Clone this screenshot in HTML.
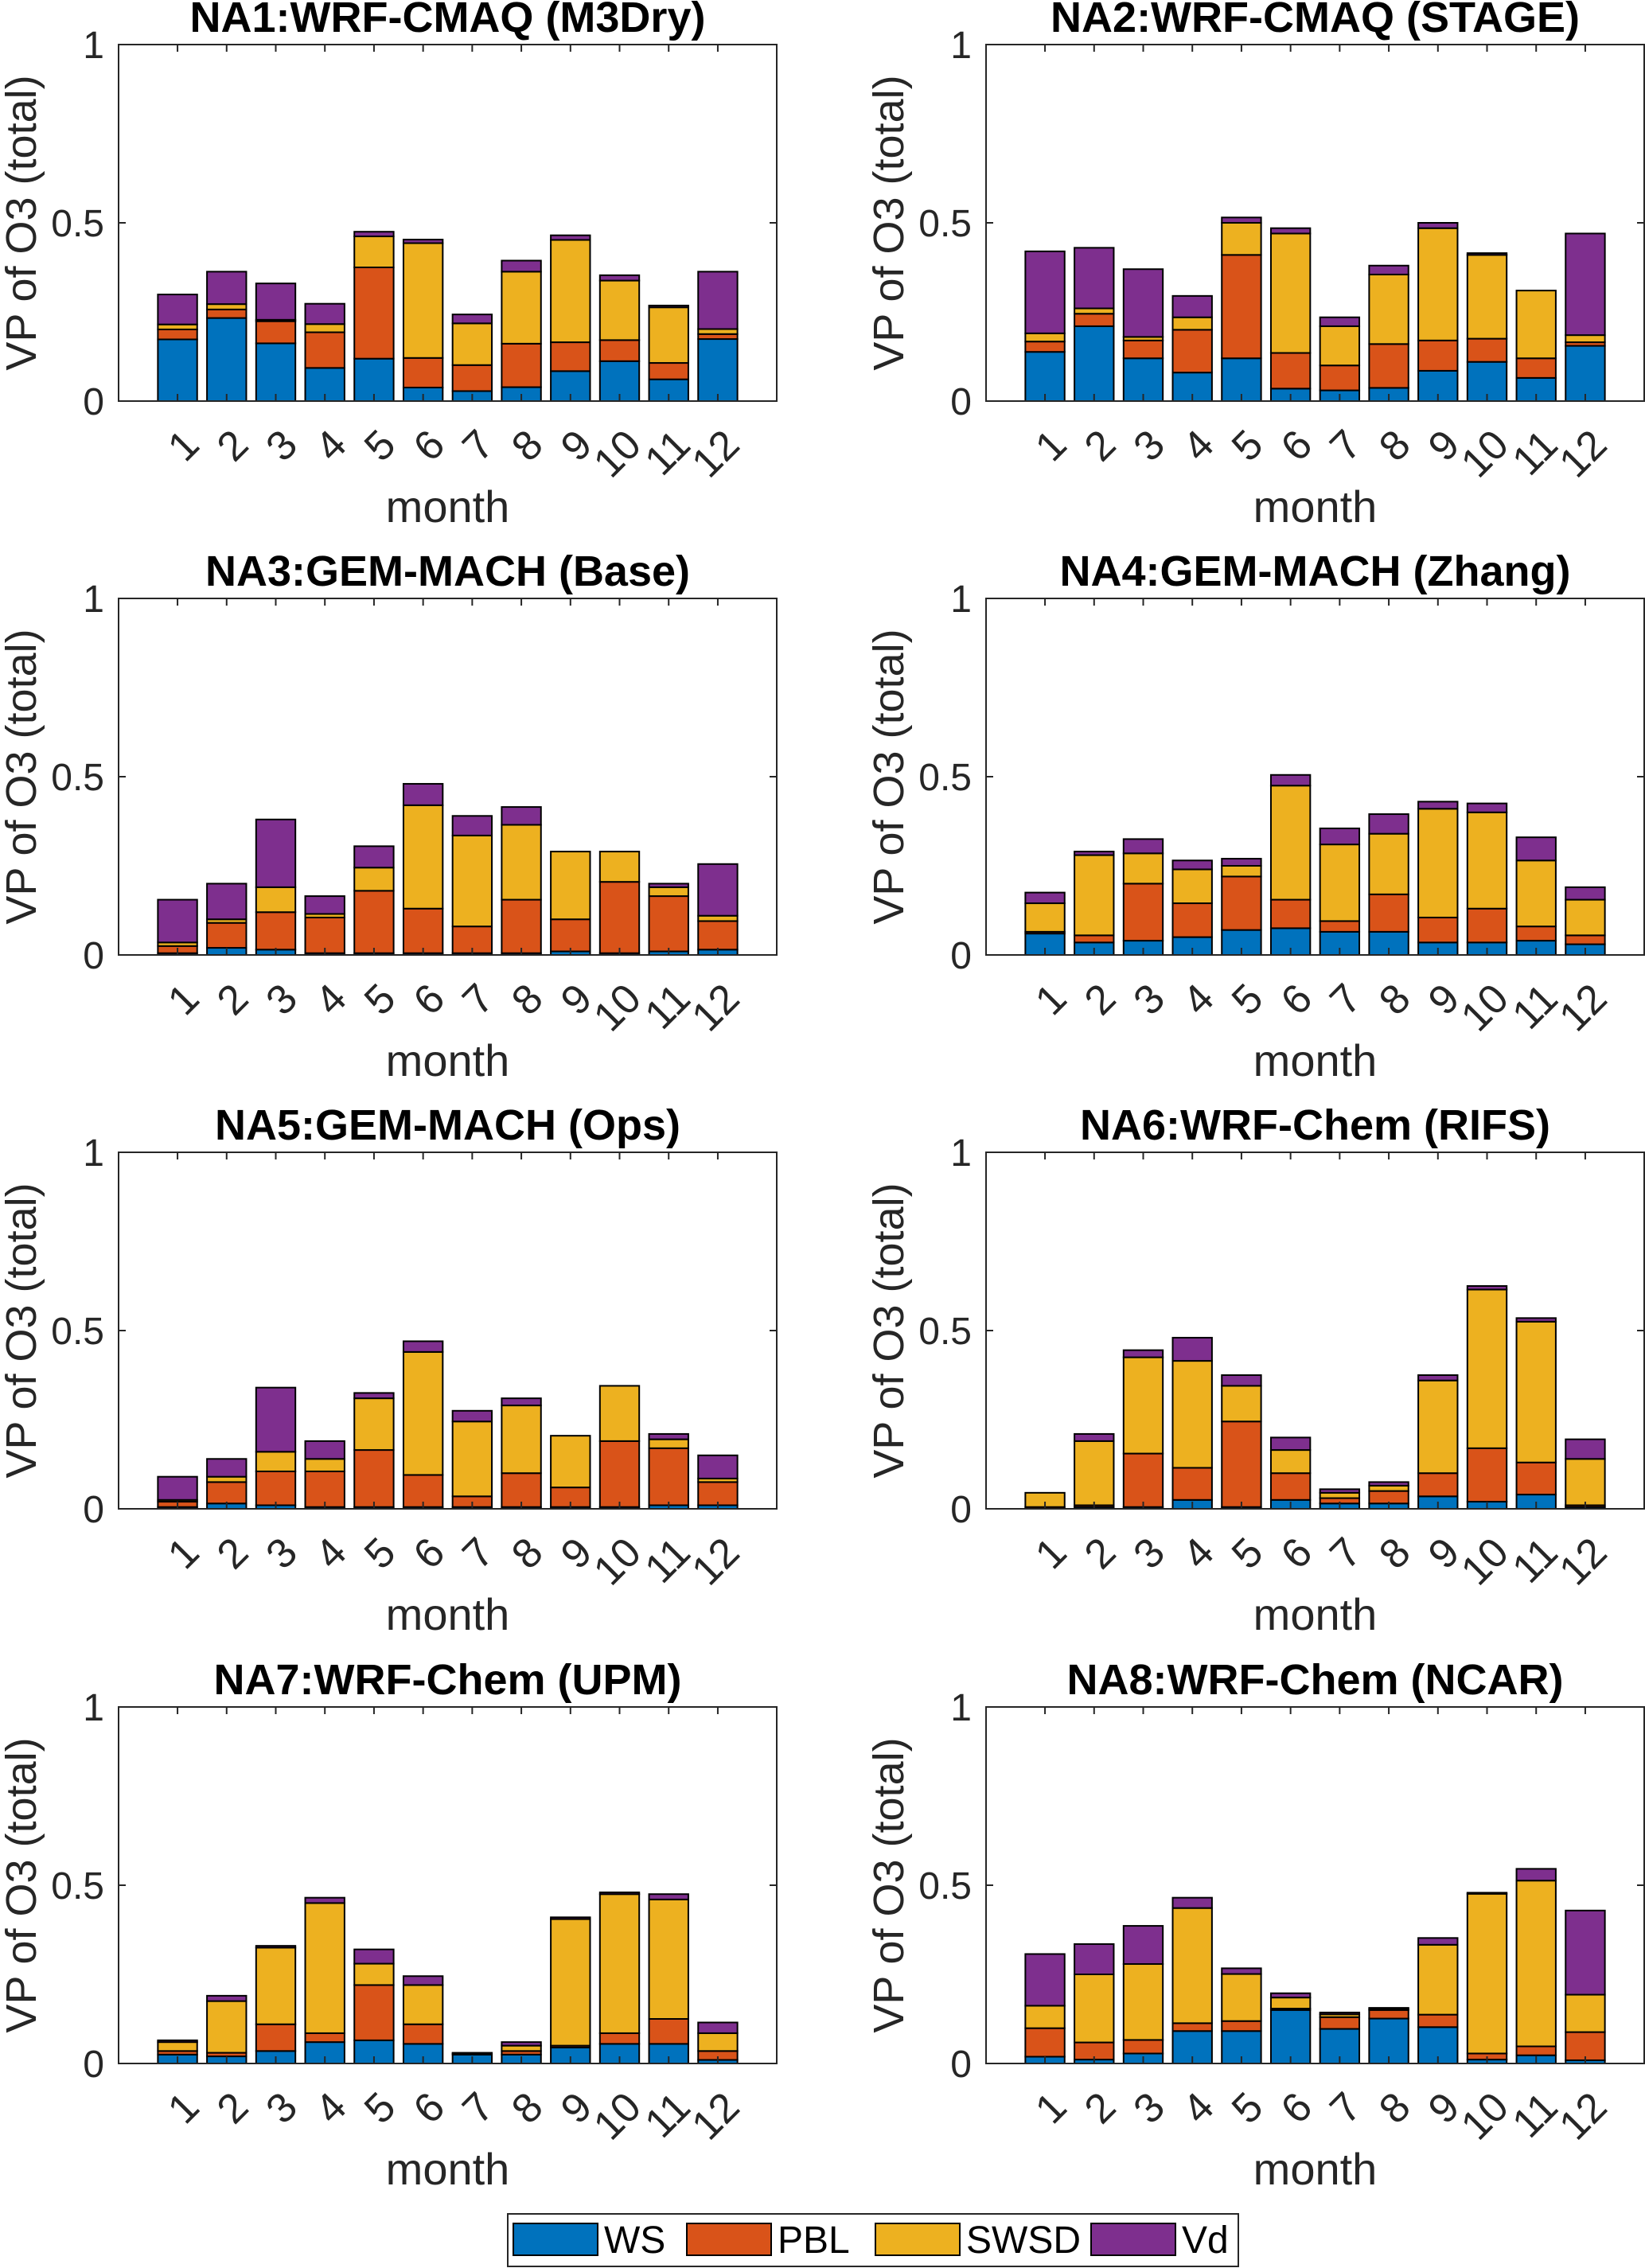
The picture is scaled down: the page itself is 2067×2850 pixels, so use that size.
<!DOCTYPE html>
<html><head><meta charset="utf-8"><style>
html,body{margin:0;padding:0;background:#fff;}
svg{display:block;font-family:"Liberation Sans",Arial,sans-serif;}
</style></head><body>
<svg id="fig" width="2067" height="2850" viewBox="0 0 2067 2850" xmlns="http://www.w3.org/2000/svg"></svg>
<script>
const months = ["1","2","3","4","5","6","7","8","9","10","11","12"];
const yTicks = [0, 0.5, 1];
const yTickLabels = ["0", "0.5", "1"];
const titles = ["NA1:WRF-CMAQ (M3Dry)","NA2:WRF-CMAQ (STAGE)","NA3:GEM-MACH (Base)","NA4:GEM-MACH (Zhang)","NA5:GEM-MACH (Ops)","NA6:WRF-Chem (RIFS)","NA7:WRF-Chem (UPM)","NA8:WRF-Chem (NCAR)"];
const seriesNames = ["WS","PBL","SWSD","Vd"];
const seriesColors = ["#0072BD","#D95319","#EDB120","#7E2F8E"];

const na1_ws = [.173,.233,.162,.093,.119,.038,.028,.039,.084,.112,.061,.174];
const na1_pbl = [.028,.024,.062,.100,.256,.083,.073,.122,.081,.059,.046,.014];
const na1_swsd = [.014,.015,.004,.023,.087,.322,.117,.202,.287,.167,.156,.014];
const na1_vd = [.084,.091,.102,.057,.013,.010,.025,.031,.013,.015,.005,.161];

const na2_ws = [.138,.21,.12,.08,.12,.035,.03,.037,.085,.11,.065,.155];
const na2_pbl = [.029,.035,.05,.12,.29,.10,.07,.123,.085,.065,.055,.01];
const na2_swsd = [.023,.015,.01,.035,.09,.335,.11,.195,.315,.235,.19,.02];
const na2_vd = [.23,.17,.19,.06,.015,.015,.025,.025,.015,.005,0,.285];

const na3_ws = [.005,.02,.015,.005,.005,.005,.005,.005,.01,.005,.01,.015];
const na3_pbl = [.02,.07,.105,.1,.175,.125,.075,.15,.09,.2,.155,.08];
const na3_swsd = [.01,.01,.07,.01,.065,.29,.255,.21,.19,.085,.025,.015];
const na3_vd = [.12,.1,.19,.05,.06,.06,.055,.05,0,0,.01,.145];

const na4_ws = [.06,.035,.04,.05,.07,.075,.065,.065,.035,.035,.04,.03];
const na4_pbl = [.005,.02,.16,.095,.15,.08,.03,.105,.07,.095,.04,.025];
const na4_swsd = [.08,.225,.085,.095,.03,.32,.215,.17,.305,.27,.185,.1];
const na4_vd = [.03,.01,.04,.025,.02,.03,.045,.055,.02,.025,.065,.035];

const na5_ws = [.005,.015,.01,.005,.005,.005,.005,.005,.005,.005,.01,.01];
const na5_pbl = [.015,.06,.095,.1,.16,.09,.03,.095,.055,.185,.16,.065];
const na5_swsd = [.005,.015,.055,.035,.145,.345,.21,.19,.145,.155,.025,.01];
const na5_vd = [.065,.05,.18,.05,.015,.03,.03,.02,0,0,.015,.065];

const na6_ws = [0,.005,.005,.025,.005,.025,.015,.015,.035,.02,.04,.005];
const na6_pbl = [.005,.005,.15,.09,.24,.075,.015,.035,.065,.15,.09,.005];
const na6_swsd = [.04,.18,.27,.3,.1,.065,.015,.015,.26,.445,.395,.13];
const na6_vd = [0,.02,.02,.065,.03,.035,.01,.01,.015,.01,.01,.055];

const na7_ws = [.025,.02,.035,.06,.065,.055,.025,.025,.045,.055,.055,.01];
const na7_pbl = [.01,.01,.075,.025,.155,.055,.003,.01,.005,.03,.07,.025];
const na7_swsd = [.025,.145,.215,.365,.06,.11,.002,.015,.355,.39,.335,.05];
const na7_vd = [.005,.015,.005,.015,.04,.025,0,.01,.005,.005,.015,.03];

const na8_ws = [.019,.011,.028,.091,.091,.150,.097,.126,.102,.011,.023,.009];
const na8_pbl = [.080,.048,.038,.022,.028,.004,.033,.024,.035,.017,.025,.079];
const na8_swsd = [.063,.191,.213,.323,.132,.031,.008,.003,.196,.448,.465,.105];
const na8_vd = [.145,.085,.107,.029,.016,.012,.005,.003,.019,.003,.033,.236];

const panelSeries = [
  [na1_ws,na1_pbl,na1_swsd,na1_vd],[na2_ws,na2_pbl,na2_swsd,na2_vd],
  [na3_ws,na3_pbl,na3_swsd,na3_vd],[na4_ws,na4_pbl,na4_swsd,na4_vd],
  [na5_ws,na5_pbl,na5_swsd,na5_vd],[na6_ws,na6_pbl,na6_swsd,na6_vd],
  [na7_ws,na7_pbl,na7_swsd,na7_vd],[na8_ws,na8_pbl,na8_swsd,na8_vd]
];

const NS = "http://www.w3.org/2000/svg";
const svg = document.getElementById("fig");
function mk(tag, attrs, parent){
  const e = document.createElementNS(NS, tag);
  for (const k in attrs) e.setAttribute(k, attrs[k]);
  (parent||svg).appendChild(e);
  return e;
}
const colX = [149, 1239], axW = 827, axH = 448, rowY = [56, 752, 1448, 2145];
const XMIN = -0.2, XMAX = 13.2;

panelSeries.forEach((series, p) => {
  const x0 = colX[p % 2], y0 = rowY[Math.floor(p / 2)];
  const g = mk("g", {});
  
  
  const sx = v => x0 + (v - XMIN) / (XMAX - XMIN) * axW;
  const sy = v => y0 + axH - v * axH;
  mk("rect", {x:x0, y:y0, width:axW, height:axH, fill:"#fff"}, g);
  for (let i = 0; i < months.length; i++) {
    let base = 0;
    for (let s = 0; s < series.length; s++) {
      const v = series[s][i];
      const r = mk("rect", {x: sx(i + 1 - 0.4), y: sy(base + v), width: sx(0.8) - sx(0), height: sy(base) - sy(base + v), fill: seriesColors[s], stroke: "#000", "stroke-width": 2}, g);
      
      
      base += v;
    }
  }
  const box = mk("rect", {x:x0, y:y0, width:axW, height:axH, fill:"none", stroke:"#262626", "stroke-width":2}, g);
  
  
  months.forEach((m, i) => {
    const tx = sx(i + 1);
    mk("line", {x1:tx, x2:tx, y1:y0+axH, y2:y0+axH-9, stroke:"#262626","stroke-width":2}, g);
    mk("line", {x1:tx, x2:tx, y1:y0, y2:y0+9, stroke:"#262626","stroke-width":2}, g);
    const ax = tx + 30, ay = y0 + axH + 58;
    const t = mk("text", {x:ax, y:ay, "text-anchor":"end", "font-size":52, fill:"#262626", transform:`rotate(-45 ${ax} ${ay})`}, g);
    t.textContent = m;
    
    
  });
  yTicks.forEach((v, k) => {
    const ty = sy(v);
    mk("line", {x1:x0, x2:x0+9, y1:ty, y2:ty, stroke:"#262626","stroke-width":2}, g);
    mk("line", {x1:x0+axW, x2:x0+axW-9, y1:ty, y2:ty, stroke:"#262626","stroke-width":2}, g);
    const t = mk("text", {x:x0-18, y:ty+17, "text-anchor":"end", "font-size":48, fill:"#262626"}, g);
    t.textContent = yTickLabels[k];
    
    
  });
  const tt = mk("text", {x:x0+axW/2, y:y0-16, "text-anchor":"middle", "font-size":54, "font-weight":"bold", fill:"#000"}, g);
  tt.textContent = titles[p];
  
  
  const lx = x0 - 104, ly = y0 + axH/2;
  const yl = mk("text", {x:lx, y:ly, "text-anchor":"middle", "font-size":54, fill:"#262626", transform:`rotate(-90 ${lx} ${ly})`}, g);
  yl.textContent = "VP of O3 (total)";
  
  
  const xl = mk("text", {x:x0+axW/2, y:y0+axH+152, "text-anchor":"middle", "font-size":56, fill:"#262626"}, g);
  xl.textContent = "month";
  
  
});

const lg = mk("g", {});


mk("rect", {x:638, y:2782, width:918, height:66, fill:"#fff", stroke:"#262626", "stroke-width":2}, lg);
const swX = [645, 863, 1100, 1371];
seriesNames.forEach((n, s) => {
  const sw = mk("rect", {x:swX[s], y:2794, width:106, height:40, fill:seriesColors[s], stroke:"#000", "stroke-width":2}, lg);
  
  
  const t = mk("text", {x:swX[s]+114, y:2831, "font-size":48, fill:"#000"}, lg);
  t.textContent = n;
  
  
});
</script>
</body></html>
